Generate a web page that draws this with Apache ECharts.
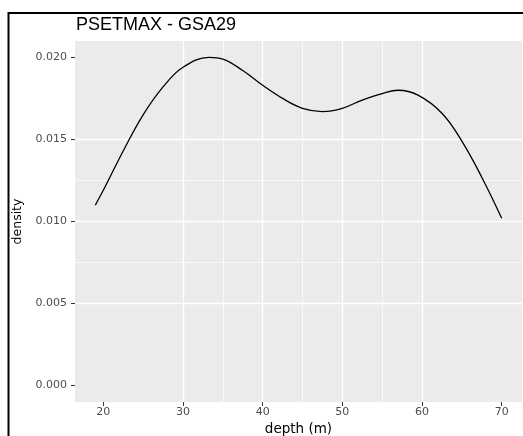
<!DOCTYPE html>
<html>
<head>
<meta charset="utf-8">
<script src="https://cdn.jsdelivr.net/npm/echarts@6/dist/echarts.min.js"></script>
<style>
  html, body { margin: 0; padding: 0; background: #fff; }
  #chart { width: 523px; height: 436px; }
</style>
</head>
<body>
<div id="chart"></div>
<script>
// Data (kernel density of depth)
const depthValues   = [19, 20, 22.5, 25, 27.5, 30, 33.3, 35, 37.5, 40, 42.5, 45, 47.5, 50, 52.5, 55, 57, 59.5, 62.5, 65, 67.5, 70];
const densityValues = [0.0110, 0.0119, 0.0143, 0.0165, 0.0182, 0.0194, 0.0200, 0.0199, 0.0192, 0.0183, 0.0175, 0.0169, 0.0167, 0.0169, 0.0174, 0.0178, 0.0180, 0.0177, 0.0166, 0.0149, 0.0127, 0.0102];
const xMajorTicks = [20, 30, 40, 50, 60, 70];
const xMinorTicks = [25, 35, 45, 55, 65];
const yMajorTicks = [0, 0.005, 0.010, 0.015, 0.020];
const yMinorTicks = [0.0025, 0.0075, 0.0125, 0.0175];
const titleText = 'PSETMAX - GSA29';
const xTitle = 'depth (m)';
const yTitle = 'density';

const xMin = 16.45, xMax = 72.55;
const yMin = -0.001, yMax = 0.021;

const seriesData = depthValues.map((d, i) => [d, densityValues[i]]);

const tickFont = { fontFamily: 'DejaVu Sans', fontSize: 11, color: '#4D4D4D' };

function majorAxis(isX, ticks) {
  return {
    type: 'value',
    min: isX ? xMin : yMin,
    max: isX ? xMax : yMax,
    gridIndex: 0,
    position: isX ? 'bottom' : 'left',
    axisLine: { show: true, onZero: false, lineStyle: { color: 'rgba(0,0,0,0)', width: 1 } },
    axisTick: { show: true, inside: false, customValues: ticks, length: 4, lineStyle: { color: '#333333', width: 1, opacity: 1 } },
    axisLabel: Object.assign({
      customValues: ticks,
      margin: isX ? 5 : 8,
      formatter: isX ? (v => String(v)) : (v => v.toFixed(3))
    }, tickFont),
    splitLine: { show: true, showMinLine: false, showMaxLine: false, lineStyle: { color: '#FFFFFF', width: 1.4 } },
    name: isX ? xTitle : yTitle,
    nameLocation: 'middle',
    nameGap: isX ? 18 : 47,
    nameTextStyle: { fontFamily: 'DejaVu Sans', fontSize: isX ? 13.5 : 12.5, color: '#000' },
    z: 3
  };
}
function minorAxis(isX, ticks) {
  return {
    type: 'value',
    min: isX ? xMin : yMin,
    max: isX ? xMax : yMax,
    gridIndex: 0,
    position: isX ? 'bottom' : 'left',
    axisLine: { show: false, onZero: false },
    axisTick: { show: false, customValues: ticks },
    axisLabel: { show: false, customValues: ticks },
    splitLine: { show: true, showMinLine: false, showMaxLine: false, lineStyle: { color: '#FFFFFF', width: 0.7 } },
    z: 0
  };
}

const chart = echarts.init(document.getElementById('chart'), null, { renderer: 'canvas' });
chart.setOption({
  animation: false,
  backgroundColor: '#FFFFFF',
  title: {
    text: titleText,
    left: 76, top: 16, padding: 0,
    textStyle: { fontFamily: 'Liberation Sans', fontSize: 18, fontWeight: 'normal', color: '#000' }
  },
  grid: {
    left: 75, right: 1, top: 41, bottom: 34,
    containLabel: false,
    outerBoundsMode: 'none',
    show: true, backgroundColor: '#EBEBEB', borderWidth: 0
  },
  xAxis: [majorAxis(true, xMajorTicks), minorAxis(true, xMinorTicks)],
  yAxis: [majorAxis(false, yMajorTicks), minorAxis(false, yMinorTicks)],
  series: [{
    type: 'line',
    xAxisIndex: 0,
    yAxisIndex: 0,
    data: seriesData,
    smooth: 0.4,
    showSymbol: false,
    lineStyle: { color: '#000', width: 1.3 },
    z: 5
  }],
  graphic: [{
    type: 'rect',
    shape: { x: 8.5, y: 13, width: 700, height: 700 },
    style: { fill: 'none', stroke: '#000', lineWidth: 2 },
    silent: true,
    z: 100
  }]
});
</script>
</body>
</html>
